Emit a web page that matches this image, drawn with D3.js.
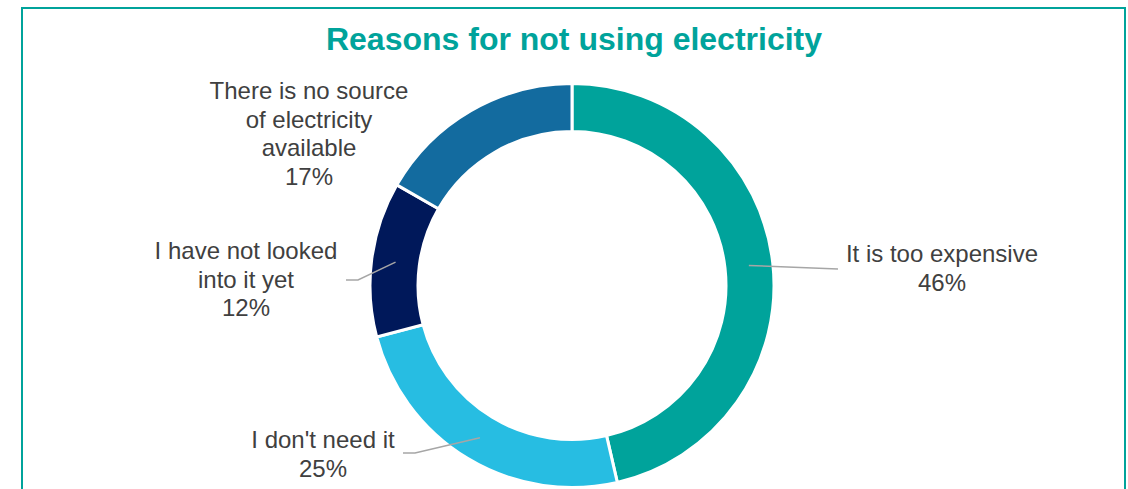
<!DOCTYPE html>
<html>
<head>
<meta charset="utf-8">
<script src="https://cdn.jsdelivr.net/npm/d3@7"></script>
<style>
  body { margin: 0; background: #fff; }
  svg { display: block; font-family: Arial, "Liberation Sans", sans-serif; }
</style>
</head>
<body>
<svg id="chart" width="1128" height="489"></svg>
<script>
// data, clockwise from 12 o'clock
const categories = ['It is too expensive', "I don't need it", 'I have not looked into it yet', 'There is no source of electricity available']
const values = [46.4, 24.5, 12.4, 16.7]
const labelLines = [
  ['It is too expensive'],
  ["I don't need it"],
  ['I have not looked', 'into it yet'],
  ['There is no source', 'of electricity', 'available']
]
const colors = ['#00a39b', '#27bde2', '#00185a', '#136b9f']

// label placement (text centre x, first baseline y, leader bend/end points)
const labelPos = [
  { x: 942, y: 262, leader: [[838, 269]] },
  { x: 323, y: 448, leader: [[415, 453], [403, 453]] },
  { x: 246, y: 259, leader: [[358, 280], [346, 280]] },
  { x: 309, y: 99, leader: null }
]

const svg = d3.select('#chart'),
  width = +svg.attr('width'),
  height = +svg.attr('height')

const teal = '#00a39b'
const textColor = '#404040'

// frame
svg.append('rect')
  .attr('x', 22)
  .attr('y', 8)
  .attr('width', 1103)
  .attr('height', 500)
  .style('fill', 'none')
  .style('stroke', teal)
  .style('stroke-width', 2)

svg.append('text')
  .attr('x', 574)
  .attr('y', 50)
  .attr('text-anchor', 'middle')
  .style('font-size', '32px')
  .style('font-weight', 'bold')
  .style('fill', teal)
  .text('Reasons for not using electricity')

const cx = 572, cy = 285.5
const outerR = 202, innerR = 154

const pie = d3.pie().sort(null).value(d => d)
const arcs = pie(values)
const arc = d3.arc().innerRadius(innerR).outerRadius(outerR)

const g = svg.append('g')
  .attr('transform', 'translate(' + cx + ',' + cy + ')')

g.selectAll('path.slice')
  .data(arcs)
  .enter()
  .append('path')
  .attr('class', 'slice')
  .attr('d', arc)
  .style('fill', (d, i) => colors[i])
  .style('stroke', '#fff')
  .style('stroke-width', 3)

// leader lines
arcs.forEach((d, i) => {
  const p = labelPos[i]
  if (!p.leader) return
  const c = arc.centroid(d)
  const pts = [[c[0] + cx, c[1] + cy], ...p.leader]
  svg.append('path')
    .attr('d', d3.line()(pts))
    .style('fill', 'none')
    .style('stroke', '#a6a6a6')
    .style('stroke-width', 1.5)
})

// labels
const lineH = 28.5
arcs.forEach((d, i) => {
  const p = labelPos[i]
  const lines = [...labelLines[i], Math.round(values[i]) + '%']
  const t = svg.append('text')
    .attr('text-anchor', 'middle')
    .style('font-size', '24px')
    .style('fill', textColor)
  lines.forEach((l, j) => {
    t.append('tspan')
      .attr('x', p.x)
      .attr('y', p.y + j * lineH)
      .text(l)
  })
})
</script>
</body>
</html>
